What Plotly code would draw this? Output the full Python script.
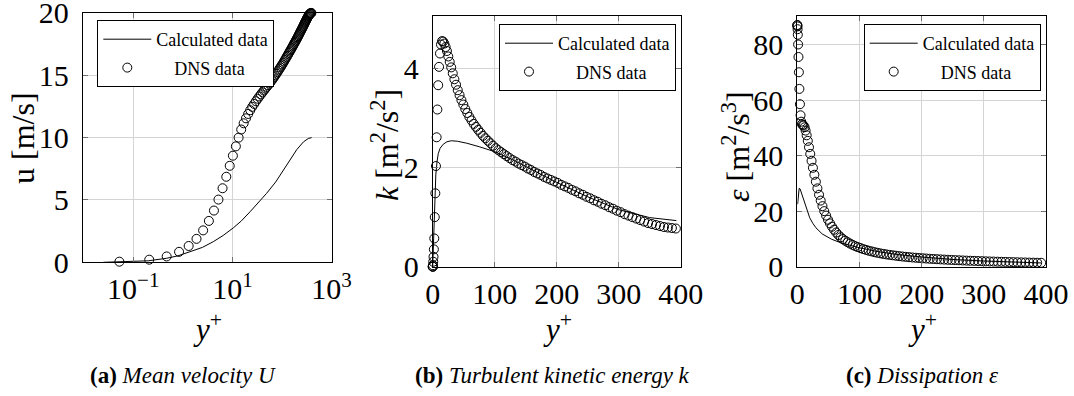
import plotly.graph_objects as go

# ---------------- DNS data (channel flow, Re_tau ~ 395) ----------------
yplus_dns = [
    0.0, 0.0525, 0.210, 0.4725, 0.8398, 1.312, 1.889, 2.570, 3.356, 4.245,
    5.239, 6.336, 7.537, 8.840, 10.247, 11.755, 13.365, 15.077, 16.890, 18.803,
    20.816, 22.929, 25.140, 27.450, 29.857, 32.362, 34.963, 37.659, 40.451, 43.336,
    46.315, 49.387, 52.550, 55.805, 59.149, 62.583, 66.104, 69.716, 73.409, 77.190,
    81.055, 85.003, 89.035, 93.150, 97.338, 101.61, 105.96, 110.38, 114.89, 119.46,
    124.11, 128.83, 133.62, 138.48, 143.41, 148.40, 153.46, 158.58, 163.77, 169.02,
    174.32, 179.69, 185.11, 190.59, 196.12, 201.70, 207.34, 213.02, 218.76, 224.54,
    230.36, 236.23, 242.13, 248.09, 254.08, 260.10, 266.16, 272.25, 278.38, 284.53,
    290.72, 296.93, 303.17, 309.43, 315.72, 322.02, 328.35, 334.69, 341.04, 347.41,
    353.79, 360.19, 366.59, 372.99, 379.41, 385.82, 392.24,
]

u_dns = [
    0.0, 0.05, 0.21, 0.47, 0.84, 1.31, 1.88, 2.56, 3.32, 4.15,
    5.03, 5.94, 6.86, 7.74, 8.55, 9.30, 10.0, 10.65, 11.15, 11.55,
    11.9, 12.2, 12.47, 12.7, 12.92, 13.12, 13.3, 13.47, 13.63, 13.78,
    13.93, 14.07, 14.2, 14.33, 14.47, 14.6, 14.73, 14.86, 14.99, 15.12,
    15.25, 15.38, 15.51, 15.63, 15.75, 15.87, 15.99, 16.11, 16.23, 16.35,
    16.46, 16.57, 16.68, 16.79, 16.9, 17.0, 17.1, 17.2, 17.3, 17.4,
    17.5, 17.6, 17.69, 17.78, 17.87, 17.96, 18.05, 18.14, 18.23, 18.32,
    18.41, 18.5, 18.58, 18.66, 18.74, 18.82, 18.9, 18.98, 19.06, 19.14,
    19.22, 19.29, 19.36, 19.43, 19.5, 19.57, 19.63, 19.69, 19.75, 19.8,
    19.85, 19.89, 19.93, 19.96, 19.98, 19.99, 20.0,
]

k_dns = [
    0.0, 0.0, 0.005, 0.03, 0.10, 0.20, 0.35, 0.57, 1.0, 1.48,
    2.03, 2.61, 3.17, 3.66, 4.03, 4.30, 4.48, 4.55, 4.54, 4.50,
    4.43, 4.35, 4.24, 4.13, 4.02, 3.90, 3.78, 3.67, 3.56, 3.46,
    3.36, 3.27, 3.18, 3.10, 3.02, 2.95, 2.88, 2.82, 2.76, 2.70,
    2.64, 2.59, 2.54, 2.49, 2.44, 2.39, 2.35, 2.31, 2.27, 2.23,
    2.19, 2.15, 2.12, 2.08, 2.05, 2.02, 1.98, 1.95, 1.91, 1.88,
    1.85, 1.81, 1.78, 1.75, 1.72, 1.69, 1.65, 1.62, 1.59, 1.55,
    1.52, 1.48, 1.45, 1.41, 1.38, 1.34, 1.31, 1.27, 1.24, 1.20,
    1.17, 1.13, 1.10, 1.06, 1.03, 1.00, 0.97, 0.94, 0.91, 0.88,
    0.86, 0.84, 0.82, 0.80, 0.79, 0.78, 0.77,
]

eps_dns = [
    87.0, 86.9, 86.5, 85.5, 83.5, 80.0, 75.5, 70.0, 64.0, 58.5,
    54.5, 52.2, 51.3, 51.0, 50.8, 50.2, 49.0, 47.3, 45.3, 43.0,
    40.6, 38.1, 35.6, 33.1, 30.6, 28.2, 25.9, 23.8, 21.8, 20.0,
    18.4, 16.9, 15.6, 14.4, 13.3, 12.3, 11.4, 10.6, 9.95, 9.35,
    8.8, 8.3, 7.85, 7.4, 7.05, 6.7, 6.35, 6.05, 5.75, 5.5,
    5.25, 5.0, 4.8, 4.6, 4.42, 4.25, 4.1, 3.95, 3.8, 3.67,
    3.55, 3.43, 3.32, 3.22, 3.12, 3.03, 2.94, 2.86, 2.78, 2.70,
    2.63, 2.56, 2.49, 2.43, 2.37, 2.31, 2.25, 2.19, 2.14, 2.09,
    2.04, 1.99, 1.94, 1.89, 1.85, 1.80, 1.76, 1.72, 1.68, 1.64,
    1.60, 1.56, 1.52, 1.48, 1.45, 1.42, 1.40,
]

# ---------------- Calculated profiles ----------------
yplus_calc_u = [0.025, 0.05, 0.1, 0.2, 0.47, 0.8, 1.4, 2.5, 4.1, 6.5, 10.5,
                15, 22.7, 33, 49, 75, 107, 150, 200, 272, 340, 398]
u_calc = [0.0, 0.02, 0.05, 0.12, 0.32, 0.52, 0.85, 1.2, 1.65, 2.15, 2.77,
          3.3, 4.05, 4.75, 5.53, 6.45, 7.39, 8.25, 9.05, 9.66, 9.93, 10.0]

yplus_calc_k = [0, 0.5, 1, 2, 3, 5, 7, 9, 12, 17, 23, 30, 40, 55, 75, 100,
                130, 160, 200, 250, 300, 350, 393]
k_calc = [0, 0.2, 0.45, 0.95, 1.35, 1.85, 2.12, 2.28, 2.39, 2.47, 2.52, 2.54,
          2.53, 2.49, 2.42, 2.32, 2.15, 1.95, 1.70, 1.41, 1.15, 0.99, 0.93]

yplus_calc_eps = [0.5, 1.5, 3, 4.5, 7, 10, 15, 20, 25, 30, 40, 55, 70, 85,
                  100, 130, 160, 200, 250, 300, 350, 392]
eps_calc = [22.5, 26.5, 28.2, 28.0, 26.3, 24.0, 20.3, 17.6, 15.6, 14.0, 11.8,
            9.9, 8.6, 7.7, 6.8, 5.4, 4.4, 3.5, 2.6, 2.05, 1.65, 1.35]

# ---------------- Text ----------------
log_tick_vals = [0.1, 10, 1000]
log_tick_text = ["10<sup>\u22121</sup>", "10<sup>1</sup>", "10<sup>3</sup>"]
lin_tick_vals = [0, 100, 200, 300, 400]
name_calc = "Calculated data"
name_dns = "\u00a0\u00a0\u00a0\u00a0DNS data"
y_titles = ["u [m/s]",
            "<i>k</i> [m<sup>2</sup>/s<sup>2</sup>]",
            "<i>\u03b5</i> [m<sup>2</sup>/s<sup>3</sup>]"]
x_title = "<i>y</i><sup>+</sup>"
captions = ["<b>(a)</b> <i>Mean velocity U</i>",
            "<b>(b)</b> <i>Turbulent kinetic energy k</i>",
            "<b>(c)</b> <i>Dissipation \u03b5</i>"]

W, H = 1074, 396
SERIF = "Liberation Serif"

fig = go.Figure()

panels = [
    ("x", "y", "legend", yplus_calc_u, u_calc,
     [v for v in yplus_dns if v > 0], [u for v, u in zip(yplus_dns, u_dns) if v > 0]),
    ("x2", "y2", "legend2", yplus_calc_k, k_calc, yplus_dns, k_dns),
    ("x3", "y3", "legend3", yplus_calc_eps, eps_calc, yplus_dns, eps_dns),
]

for xa, ya, lg, xc, yc, xd, yd in panels:
    fig.add_trace(go.Scatter(
        x=xc, y=yc, mode="lines", name=name_calc,
        line=dict(color="black", width=1), xaxis=xa, yaxis=ya,
        legend=lg, legendgroup=lg + "c"))
    fig.add_trace(go.Scatter(
        x=xd, y=yd, mode="markers", name=name_dns,
        marker=dict(symbol="circle-open", size=9, color="black",
                    line=dict(width=1, color="black")),
        cliponaxis=False, xaxis=xa, yaxis=ya,
        legend=lg, legendgroup=lg + "d"))


def px_x(p):
    return p / W


def px_y(p):
    return 1 - p / H


axis_common = dict(
    showline=True, linecolor="black", linewidth=1, mirror="allticks",
    ticks="inside", ticklen=5, tickcolor="#707070", tickwidth=1,
    showgrid=True, gridcolor="#d4d4d4", gridwidth=1, zeroline=False,
    automargin=False, ticklabeloverflow="allow",
    tickfont=dict(family=SERIF, size=30, color="black"),
)
x_common = dict(ticklabelstandoff=0, **axis_common)
y_common = dict(ticklabelstandoff=7, **axis_common)

# plot-area boxes in pixels: (left, right, top, bottom)
boxes = [(82.7, 332.0, 12.7, 262.3),
         (432.7, 681.0, 16.0, 266.7),
         (797.3, 1046.3, 16.0, 266.7)]

fig.update_layout(
    xaxis=dict(domain=[px_x(boxes[0][0]), px_x(boxes[0][1])], type="log",
               range=[-2.02, 3.01], tickvals=log_tick_vals,
               ticktext=log_tick_text, anchor="y", **x_common),
    yaxis=dict(domain=[px_y(boxes[0][3]), px_y(boxes[0][2])], range=[0, 20.02],
               tickvals=[0, 5, 10, 15, 20], anchor="x", **y_common),
    xaxis2=dict(domain=[px_x(boxes[1][0]), px_x(boxes[1][1])], range=[0, 400.5],
                tickvals=lin_tick_vals, anchor="y2", **x_common),
    yaxis2=dict(domain=[px_y(boxes[1][3]), px_y(boxes[1][2])], range=[0, 5.056],
                tickvals=[0, 2, 4], anchor="x2", **y_common),
    xaxis3=dict(domain=[px_x(boxes[2][0]), px_x(boxes[2][1])], range=[0, 400.5],
                tickvals=lin_tick_vals, anchor="y3", **x_common),
    yaxis3=dict(domain=[px_y(boxes[2][3]), px_y(boxes[2][2])], range=[0, 90.25],
                tickvals=[0, 20, 40, 60, 80], anchor="x3", **y_common),
)

legend_style = dict(
    bgcolor="white", bordercolor="black", borderwidth=1,
    font=dict(family=SERIF, size=18, color="black"),
    xanchor="right", yanchor="top", tracegroupgap=2, itemwidth=48,
)
fig.update_layout(
    legend=dict(x=px_x(274.3), y=px_y(20), **legend_style),
    legend2=dict(x=px_x(676), y=px_y(24), **legend_style),
    legend3=dict(x=px_x(1040.7), y=px_y(24), **legend_style),
)

annotations = []
for text, (xp, yp) in zip(y_titles, [(23, 138), (385, 145), (736, 147)]):
    annotations.append(dict(
        text=text, x=px_x(xp), y=px_y(yp), xref="paper", yref="paper",
        showarrow=False, textangle=-90, xanchor="center", yanchor="middle",
        font=dict(family=SERIF, size=32, color="black")))
for xp in [207, 557, 922]:
    annotations.append(dict(
        text=x_title, x=px_x(xp), y=px_y(327),
        xref="paper", yref="paper", showarrow=False,
        xanchor="center", yanchor="middle",
        font=dict(family=SERIF, size=31, color="black")))
for text, xp in zip(captions, [183, 552, 922]):
    annotations.append(dict(
        text=text, x=px_x(xp), y=px_y(375), xref="paper", yref="paper",
        showarrow=False, xanchor="center", yanchor="middle",
        font=dict(family=SERIF, size=23, color="black")))

fig.update_layout(
    annotations=annotations,
    width=W, height=H, margin=dict(l=0, r=0, t=0, b=0, autoexpand=False),
    paper_bgcolor="white", plot_bgcolor="white",
    showlegend=True,
)

fig.write_html("out.html")
